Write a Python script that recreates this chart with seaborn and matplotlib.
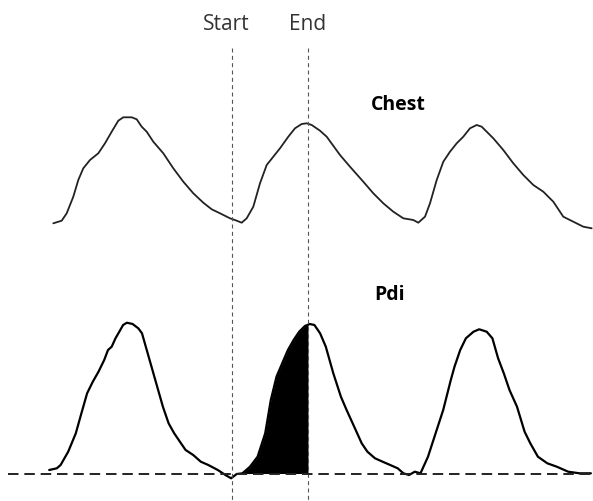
import numpy as np
import pandas as pd
import seaborn as sns
import matplotlib
matplotlib.use("Agg")
import matplotlib.pyplot as plt

sns.set_theme(style="white")
plt.rcParams['font.family'] = ['Open Sans', 'DejaVu Sans']

# Chest wall movement trace (time, level; larger = lower on page)
chest_t = [53.3, 61.7, 66.7, 73.3, 78.3, 83.3, 90.0, 98.3, 105.0, 111.7, 118.3, 123.3, 131.7, 136.7,
           141.7, 146.7, 153.3, 163.3, 173.3, 183.3, 193.3, 203.3, 211.7, 220.0, 230.0, 236.7,
           241.7, 246.7, 253.3, 260.0, 266.7, 273.3, 280.0, 288.3, 295.0, 301.7, 306.7, 311.7,
           320.0, 326.7, 340.0, 350.0, 363.3, 373.3, 383.3, 393.3, 403.3, 413.3, 418.3, 425.0,
           430.0, 436.7, 443.3, 450.0, 456.7, 463.3, 470.0, 476.7, 481.7, 486.7, 493.3, 503.3,
           513.3, 523.3, 533.3, 543.3, 553.3, 563.3, 573.3, 583.3, 591.7]
chest_y = [223.3, 220.7, 213.3, 196.7, 180.0, 168.3, 160.0, 153.3, 143.3, 131.7, 120.7, 117.3, 117.3, 119.3,
           126.7, 131.7, 141.7, 153.3, 168.3, 181.7, 193.3, 202.7, 209.3, 213.3, 218.3, 220.7,
           222.7, 218.3, 206.7, 183.3, 165.0, 156.7, 148.3, 136.7, 128.3, 124.0, 123.3, 125.0,
           130.7, 136.7, 155.0, 166.7, 181.7, 193.3, 203.3, 211.7, 218.3, 220.0, 222.7, 216.7,
           203.3, 180.0, 161.7, 151.7, 143.3, 136.7, 128.3, 125.0, 126.7, 131.7, 138.3, 150.0,
           163.3, 175.0, 185.0, 191.7, 201.7, 216.7, 221.7, 226.7, 228.3]

# Transdiaphragmatic pressure trace
pdi_t = [49.2, 56.8, 60.6, 68.2, 75.8, 81.4, 87.1, 92.8, 98.5, 104.2, 108.0, 111.7, 115.5, 119.3,
         123.1, 126.9, 132.6, 138.3, 142.0, 145.8, 151.5, 157.2, 162.9, 168.6, 174.2, 179.9,
         185.6, 193.2, 200.8, 208.3, 217.8, 225.4, 231.1, 236.7, 242.4, 250.0, 257.6, 265.2,
         270.8, 276.5, 282.2, 287.9, 293.6, 299.2, 304.9, 309.8, 314.4, 320.1, 325.8, 333.3,
         340.9, 346.6, 354.2, 361.7, 367.4, 375.0, 382.6, 390.2, 397.7, 403.4, 409.1, 414.8,
         420.5, 428.0, 435.6, 443.2, 450.8, 454.5, 460.2, 465.9, 473.5, 479.2, 486.7, 492.4,
         498.1, 503.8, 509.5, 517.0, 524.6, 530.3, 537.9, 547.3, 556.8, 568.2, 579.5, 590.9]
pdi_y = [470.0, 468.3, 465.0, 451.7, 433.3, 413.3, 393.3, 381.7, 371.7, 360.0, 350.0, 346.7, 338.3, 331.7,
         325.0, 322.7, 324.0, 328.3, 333.3, 346.7, 366.7, 386.7, 406.7, 423.3, 433.3, 441.7,
         450.0, 455.0, 461.7, 465.0, 470.0, 475.0, 478.3, 474.0, 473.3, 466.7, 456.7, 433.3,
         400.0, 376.7, 363.3, 350.0, 340.0, 331.7, 326.0, 324.0, 325.0, 333.3, 346.7, 373.3,
         396.7, 410.0, 426.7, 443.3, 451.7, 458.3, 461.7, 465.0, 468.3, 473.3, 475.0, 471.7,
         473.3, 456.7, 433.3, 410.0, 380.0, 366.7, 350.0, 338.3, 331.7, 329.3, 331.7, 338.3,
         358.3, 373.3, 390.0, 406.7, 431.7, 443.3, 456.7, 463.3, 466.7, 471.7, 473.3, 473.3]

start_t, end_t = 231.5, 308.0
baseline_y = 473.5

chest = pd.DataFrame({"t": chest_t, "y": chest_y})
pdi = pd.DataFrame({"t": pdi_t, "y": pdi_y})

fig = plt.figure(figsize=(5.93, 5.01), dpi=100)
ax = fig.add_axes([0, 0, 1, 1])
ax.set_xlim(0, 593)
ax.set_ylim(501, 0)
ax.axis("off")

sns.lineplot(data=chest, x="t", y="y", ax=ax, color="#222222", lw=1.3, estimator=None, sort=False)
sns.lineplot(data=pdi, x="t", y="y", ax=ax, color="black", lw=1.6, estimator=None, sort=False)

# shaded area between start and end
ft = np.linspace(start_t + 1, end_t, 300)
fv = np.interp(ft, pdi["t"], pdi["y"])
ax.fill_between(ft, baseline_y, np.minimum(fv, baseline_y), color="black", lw=0)

for xv in (start_t, end_t):
    ax.plot([xv, xv], [48, 501], color="#555555", lw=0.8, ls=(0, (3.6, 3)))
ax.plot([8, 592], [baseline_y, baseline_y], color="#222222", lw=1.4, ls=(0, (5.4, 3)))

ax.text(226.5, 30, "Start", ha="center", va="baseline", fontsize=15, color="#333333")
ax.text(308, 30, "End", ha="center", va="baseline", fontsize=15, color="#333333")
ax.text(398, 110, "Chest", ha="center", va="baseline", fontsize=14, fontweight="bold", color="black")
ax.text(390, 300, "Pdi", ha="center", va="baseline", fontsize=14, fontweight="bold", color="black")

fig.savefig("out.png", dpi=100)
